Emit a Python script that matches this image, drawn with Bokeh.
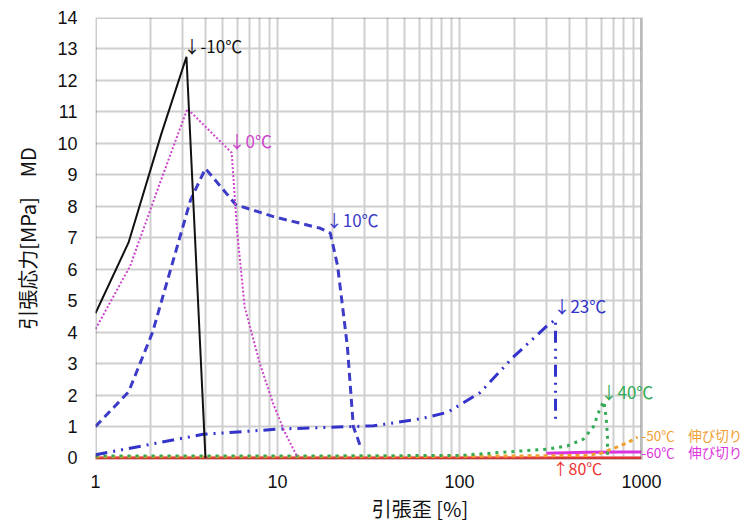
from bokeh.plotting import figure
from bokeh.models import FixedTicker, Label, Range1d, LogAxis, BoxAnnotation
from bokeh.embed import file_html
from bokeh.resources import INLINE

# ---- data (strain %, stress MPa) ----
m10_x = [1.0, 1.52, 2.3, 3.16, 4.02]
m10_y = [4.6, 6.85, 10.3, 12.75, 0.0]

t0_x = [1.0, 1.55, 2.28, 3.2, 5.6, 6.0, 6.6, 8.0, 9.5, 11.0, 12.8]
t0_y = [4.1, 6.1, 8.8, 11.1, 9.7, 7.2, 4.8, 3.0, 1.7, 0.8, 0.05]

t10_x = [1.0, 1.52, 2.06, 3.33, 4.02, 5.9, 9.5, 17.2, 19.5, 21.4, 24.2, 26.1, 28.5]
t10_y = [1.0, 2.1, 4.0, 8.2, 9.2, 8.05, 7.67, 7.3, 7.15, 6.1, 3.55, 1.0, 0.38]

t23_x = [1.0, 3.9, 10.4, 33.7, 60.7, 86.0, 130.0, 197.0, 303.0, 337.0, 337.0]
t23_y = [0.1, 0.75, 0.92, 1.02, 1.24, 1.45, 2.08, 3.2, 4.2, 4.4, 1.2]

t40_x = [1.0, 13.0, 100.0, 303.0, 391.0, 480.0, 545.0, 590.0, 622.0, 640.0, 650.0, 650.0]
t40_y = [0.06, 0.06, 0.08, 0.28, 0.38, 0.6, 1.0, 1.55, 1.8, 1.24, 0.7, 0.0]

t50_x = [1.0, 100.0, 500.0, 600.0, 700.0, 850.0, 950.0]
t50_y = [0.04, 0.05, 0.08, 0.15, 0.3, 0.5, 0.66]

t60_x = [300.0, 500.0, 800.0, 1000.0]
t60_y = [0.15, 0.18, 0.19, 0.19]

t80_x = [1.0, 1000.0]
t80_y = [0.0, 0.0]

x_major = [1, 10, 100, 1000]
x_minor = [2, 3, 4, 5, 6, 7, 8, 9, 20, 30, 40, 50, 60, 70, 80, 90,
           200, 300, 400, 500, 600, 700, 800, 900]
y_ticks = list(range(0, 15))

X_MIN, X_MAX = 1, 1000
X_VIEW_END = 1000 * 10 ** (103 / 182)   # extra room right of the chart for end labels

p = figure(width=744, height=526, x_axis_type="log",
           x_range=Range1d(X_MIN, X_VIEW_END), y_range=Range1d(-0.05, 14),
           output_backend="svg", toolbar_location=None,
           min_border_left=95, min_border_right=0,
           min_border_top=17, min_border_bottom=67)
p.outline_line_color = None
p.background_fill_color = "white"
p.border_fill_color = "white"

# red "80℃" marker axis (nearest to the frame), then the main x axis
red_axis = LogAxis(ticker=FixedTicker(ticks=[445]),
                   major_label_overrides={445: "↑80℃"})
red_axis.axis_line_color = None
red_axis.major_tick_line_color = None
red_axis.minor_tick_line_color = None
red_axis.major_label_standoff = -10
red_axis.major_label_text_color = "#ee3333"
red_axis.major_label_text_font = "Noto Sans CJK JP"
red_axis.major_label_text_font_size = "16px"

main_x = p.xaxis[0]
main_x.ticker = FixedTicker(ticks=x_major, minor_ticks=x_minor)
main_x.major_label_overrides = {1: "1", 10: "10", 100: "100", 1000: "1000"}
main_x.bounds = (X_MIN, X_MAX)
p.below = [red_axis, main_x]

p.yaxis.ticker = FixedTicker(ticks=y_ticks)

for ax in (main_x, p.yaxis[0]):
    ax.axis_line_color = None
    ax.major_tick_line_color = None
    ax.minor_tick_line_color = None
    ax.major_label_text_font = "Liberation Sans"
    ax.major_label_text_font_size = "18px"
    ax.major_label_text_color = "#111111"
    ax.axis_label_text_font = "Noto Sans CJK JP"
    ax.axis_label_text_font_size = "20px"
    ax.axis_label_text_font_style = "normal"
    ax.axis_label_text_color = "#111111"

main_x.axis_label = "引張歪 [%]"
p.yaxis.axis_label = "引張応力[MPa]　MD"
main_x.major_label_standoff = -14
main_x.axis_label_standoff = 3
p.yaxis.major_label_standoff = 12
p.yaxis.axis_label_standoff = 12

p.xgrid.bounds = (X_MIN, X_MAX)
p.xgrid.grid_line_color = "#cfcfcf"
p.xgrid.grid_line_width = 2
p.xgrid.minor_grid_line_color = "#cfcfcf"
p.xgrid.minor_grid_line_width = 2
p.ygrid.grid_line_color = "#cfcfcf"
p.ygrid.grid_line_width = 2

p.line(t80_x, t80_y, line_color="#ee3333", line_width=3)
p.line(t60_x, t60_y, line_color="#dd33dd", line_width=3)
p.line(t50_x, t50_y, line_color="#f0a030", line_width=3, line_dash="4 4")
p.line(t40_x, t40_y, line_color="#33aa55", line_width=3, line_dash="3 5")
p.line(t23_x, t23_y, line_color="#3333cc", line_width=3, line_dash="12 6 2 6 2 6")
p.line(t10_x, t10_y, line_color="#3c3cc8", line_width=3, line_dash="8 5")
p.line(t0_x, t0_y, line_color="#cc44cc", line_width=2, line_dash="2 2")
p.line(m10_x, m10_y, line_color="#111111", line_width=2)

# blank area right of the chart, and the chart border
p.add_layout(BoxAnnotation(left=X_MAX, right=X_VIEW_END * 2, bottom=-1, top=15,
                           fill_color="white", fill_alpha=1, line_color=None))
p.add_layout(BoxAnnotation(left=X_MIN, right=X_MAX, bottom=-0.05, top=14,
                           fill_alpha=0, line_color="#555555", line_width=3))

def lab(x, y, t, c, size="17px"):
    p.add_layout(Label(x=x, y=y, text=t, text_color=c, text_font="Noto Sans CJK JP",
                       text_font_size=size, text_baseline="middle", text_align="left"))

lab(3.04, 13.11, "↓-10℃", "#111111")
lab(5.38, 10.1, "↓0℃", "#cc44cc")
lab(18.4, 7.57, "↓10℃", "#3c3cc8")
lab(328, 4.85, "↓23℃", "#3333cc")
lab(595, 2.12, "↓40℃", "#33aa55")
lab(1000, 0.74, "-50℃　伸び切り", "#f0a030", "13.5px")
lab(1000, 0.20, "-60℃　伸び切り", "#dd33dd", "13.5px")

open("out.html", "w").write(file_html(p, INLINE))
